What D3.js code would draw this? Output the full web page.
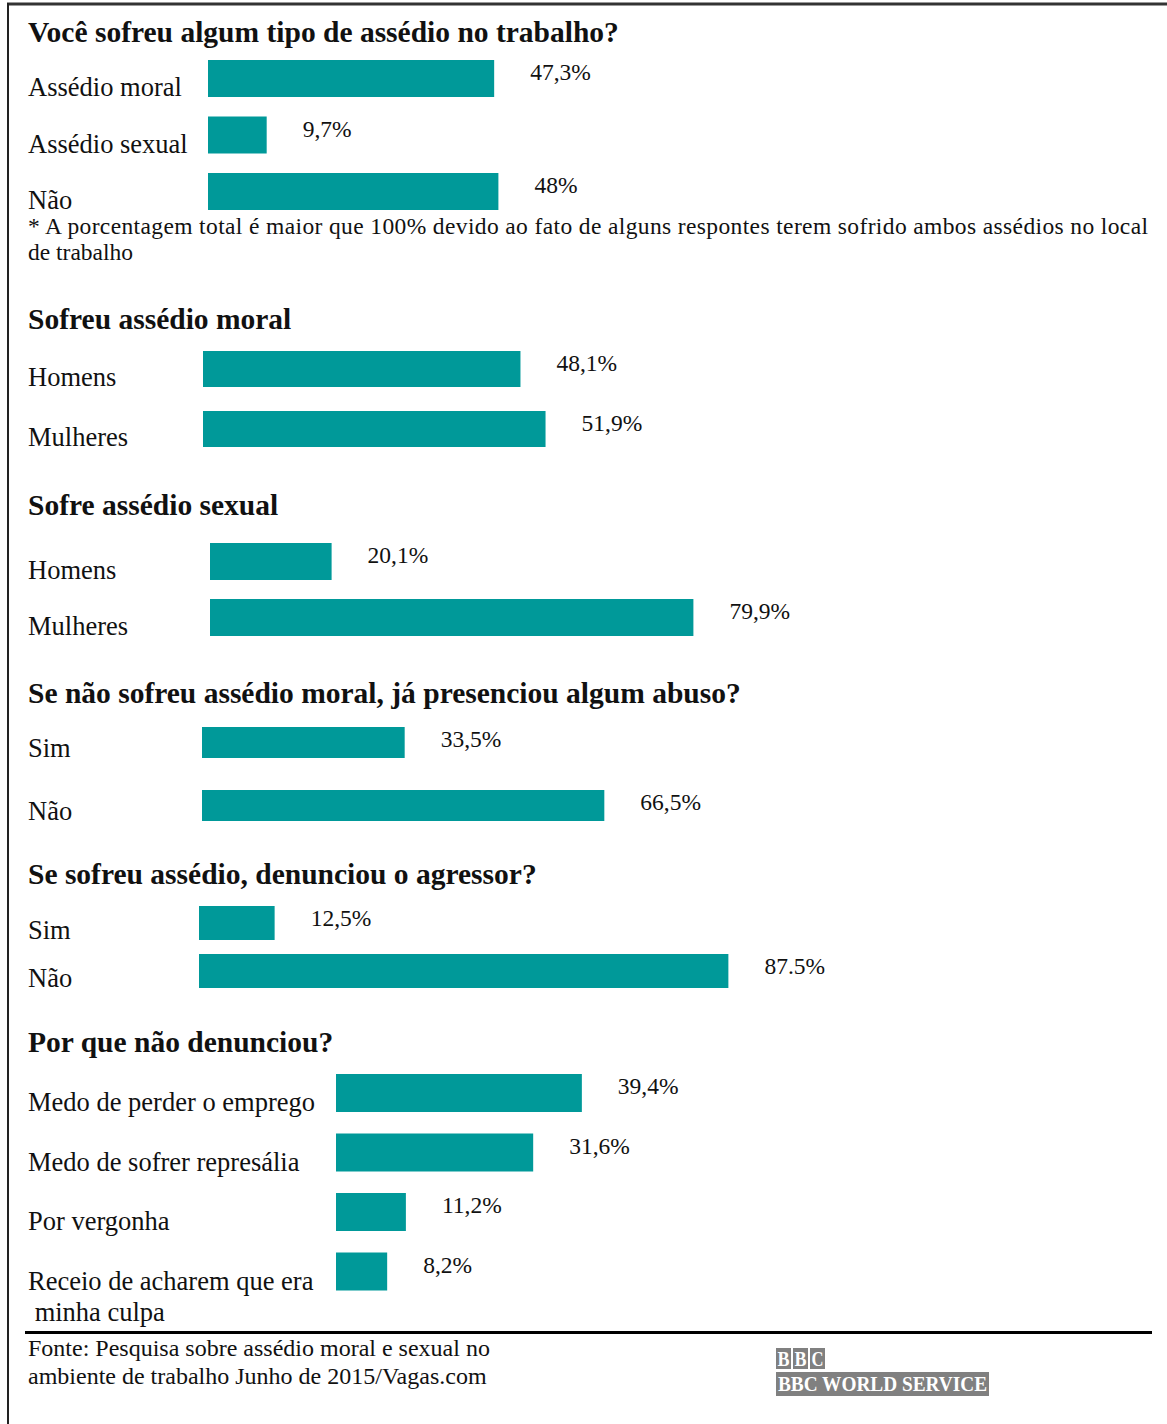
<!DOCTYPE html>
<html>
<head>
<meta charset="utf-8">
<script src="https://cdn.jsdelivr.net/npm/d3@7"></script>
<style>
body { margin: 0; background: #fff; }
text { font-family: "Liberation Serif", "Times New Roman", serif; fill: #111; }
</style>
</head>
<body>
<svg id="chart" width="1167" height="1424"></svg>
<script>
var titles = [
  "Você sofreu algum tipo de assédio no trabalho?",
  "Sofreu assédio moral",
  "Sofre assédio sexual",
  "Se não sofreu assédio moral, já presenciou algum abuso?",
  "Se sofreu assédio, denunciou o agressor?",
  "Por que não denunciou?"
]

var cats1 = ["Assédio moral", "Assédio sexual", "Não"],
vals1 = [47.3, 9.7, 48],
labs1 = ["47,3%", "9,7%", "48%"]

var cats2 = ["Homens", "Mulheres"],
vals2 = [48.1, 51.9],
labs2 = ["48,1%", "51,9%"]

var cats3 = ["Homens", "Mulheres"],
vals3 = [20.1, 79.9],
labs3 = ["20,1%", "79,9%"]

var cats4 = ["Sim", "Não"],
vals4 = [33.5, 66.5],
labs4 = ["33,5%", "66,5%"]

var cats5 = ["Sim", "Não"],
vals5 = [12.5, 87.5],
labs5 = ["12,5%", "87.5%"]

var cats6 = ["Medo de perder o emprego", "Medo de sofrer represália", "Por vergonha", "Receio de acharem que era| minha culpa"],
vals6 = [39.4, 31.6, 11.2, 8.2],
labs6 = ["39,4%", "31,6%", "11,2%", "8,2%"]

var footnote = ["* A porcentagem total é maior que 100% devido ao fato de alguns respontes terem sofrido ambos assédios no local", "de trabalho"]
var source = ["Fonte: Pesquisa sobre assédio moral e sexual no", "ambiente de trabalho Junho de 2015/Vagas.com"]

// layout per section (w100 = pixel width of a 100% bar)
var layout = [
  {titleY: 42, top: 60, step: 56.5, x0: 208, barH: 37, w100: 605},
  {titleY: 329, top: 351, step: 60, x0: 203, barH: 36, w100: 660},
  {titleY: 515, top: 543, step: 56, x0: 210, barH: 37, w100: 605},
  {titleY: 703, top: 727, step: 63, x0: 202, barH: 31, w100: 605},
  {titleY: 884, top: 906, step: 48, x0: 199, barH: 34, w100: 605},
  {titleY: 1052, top: 1074, step: 59.5, x0: 336, barH: 38, w100: 624}
]

var sections = [
  [cats1, vals1, labs1],
  [cats2, vals2, labs2],
  [cats3, vals3, labs3],
  [cats4, vals4, labs4],
  [cats5, vals5, labs5],
  [cats6, vals6, labs6]
]

var barColor = "#009999"
var svg = d3.select("#chart")

// frame
svg.append("line")
.attr("x1", 7).attr("x2", 1167)
.attr("y1", 4).attr("y2", 4)
.attr("stroke", "#333").attr("stroke-width", 3)
svg.append("line")
.attr("x1", 8).attr("x2", 8)
.attr("y1", 3).attr("y2", 1424)
.attr("stroke", "#222").attr("stroke-width", 2)

sections.forEach(function(s, i){
  var L = layout[i]
  var cats = s[0], vals = s[1], labs = s[2]
  var g = svg.append("g")

  var x = d3.scaleLinear()
  .domain([0, 100])
  .range([0, L.w100])

  var y = d3.scaleBand()
  .domain(cats)
  .range([L.top, L.top + L.step * cats.length])
  .padding(0)

  g.append("text")
  .attr("x", 28)
  .attr("y", L.titleY)
  .style("font-size", "29.5px")
  .style("font-weight", "bold")
  .text(titles[i])

  g.selectAll(".bar")
  .data(vals)
  .enter()
  .append("rect")
  .attr("class", "bar")
  .attr("x", L.x0)
  .attr("y", function(d, j){ return y(cats[j]) })
  .attr("width", function(d){ return x(d) })
  .attr("height", L.barH)
  .attr("fill", barColor)

  g.selectAll(".val")
  .data(vals)
  .enter()
  .append("text")
  .attr("class", "val")
  .attr("x", function(d){ return L.x0 + x(d) + 36 })
  .attr("y", function(d, j){ return y(cats[j]) + 20 })
  .style("font-size", "23.5px")
  .text(function(d, j){ return labs[j] })

  var cat = g.selectAll(".cat")
  .data(cats)
  .enter()
  .append("text")
  .attr("class", "cat")
  .attr("y", function(d){ return y(d) + L.barH - 1 })
  .style("font-size", "26.5px")

  cat.selectAll("tspan")
  .data(function(d){ return d.split("|") })
  .enter()
  .append("tspan")
  .attr("x", 28)
  .attr("dy", function(d, k){ return k == 0 ? 0 : 31 })
  .attr("xml:space", "preserve")
  .style("white-space", "pre")
  .text(function(d){ return d })
})

// footnote under first section
svg.append("text")
.attr("x", 28).attr("y", 234)
.attr("textLength", 1120)
.attr("lengthAdjust", "spacing")
.style("font-size", "23.5px")
.text(footnote[0])
svg.append("text")
.attr("x", 28).attr("y", 260)
.style("font-size", "23.5px")
.text(footnote[1])

// bottom rule + source
svg.append("line")
.attr("x1", 25).attr("x2", 1152)
.attr("y1", 1332.5).attr("y2", 1332.5)
.attr("stroke", "#000").attr("stroke-width", 3)

svg.selectAll(".src")
.data(source)
.enter()
.append("text")
.attr("class", "src")
.attr("x", 28)
.attr("y", function(d, i){ return 1356 + i * 28 })
.style("font-size", "24px")
.text(function(d){ return d })

// BBC logo
var logo = svg.append("g").attr("transform", "translate(776,1348)")
logo.selectAll(".blk")
.data(["B", "B", "C"])
.enter()
.append("g")
.attr("transform", function(d, i){ return "translate(" + i * 17 + ",0)" })
.each(function(d){
  d3.select(this).append("rect")
  .attr("width", 15).attr("height", 21)
  .attr("fill", "#808080")
  d3.select(this).append("text")
  .attr("x", 7.5).attr("y", 18)
  .attr("text-anchor", "middle")
  .attr("textLength", 12)
  .attr("lengthAdjust", "spacingAndGlyphs")
  .style("font-size", "21px")
  .style("font-weight", "bold")
  .style("fill", "#fff")
  .text(d)
})
logo.append("rect")
.attr("x", 0).attr("y", 24)
.attr("width", 213).attr("height", 24)
.attr("fill", "#808080")
logo.append("text")
.attr("x", 2).attr("y", 43)
.attr("textLength", 209)
.attr("lengthAdjust", "spacingAndGlyphs")
.style("font-size", "21px")
.style("font-weight", "bold")
.style("fill", "#fff")
.text("BBC WORLD SERVICE")
</script>
</body>
</html>
